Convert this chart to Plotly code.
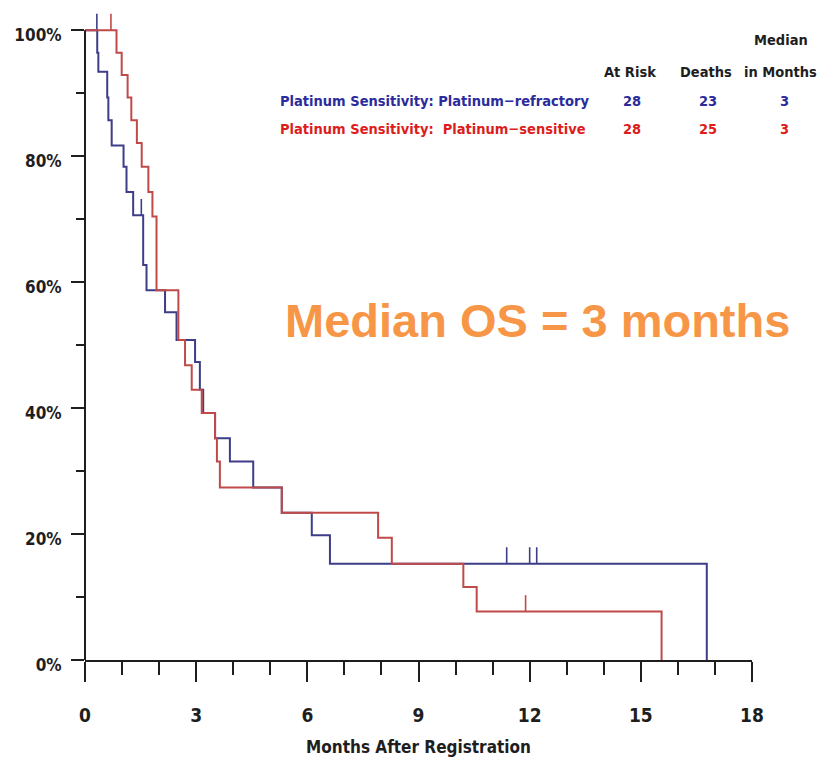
import plotly.graph_objects as go

# ---------------- data ----------------
refractory_times = [0, 0.33, 0.36, 0.60, 0.63, 0.72, 1.04, 1.12, 1.30, 1.57, 1.66, 2.16,
                    2.47, 2.97, 3.10, 3.19, 3.51, 3.91, 4.54, 5.31, 6.12, 6.61, 16.78]
refractory_surv = [100, 96.4, 93.4, 89.3, 85.7, 81.7, 78.3, 74.3, 70.6, 62.7, 58.7, 55.2,
                   50.8, 47.3, 42.9, 39.2, 35.2, 31.5, 27.4, 23.4, 19.8, 15.3, 0]
refractory_censor_t = [0.32, 1.52, 11.38, 12.0, 12.19]
refractory_censor_s = [100, 70.6, 15.3, 15.3, 15.3]

sensitive_times = [0, 0.85, 0.99, 1.15, 1.25, 1.40, 1.53, 1.71, 1.82, 1.93, 2.52, 2.70,
                   2.88, 3.15, 3.51, 3.56, 3.64, 5.31, 7.91, 8.28, 10.21, 10.57, 15.56]
sensitive_surv = [100, 96.4, 92.9, 89.3, 85.7, 82.1, 78.3, 74.3, 70.4, 58.7, 50.8, 46.8,
                  42.9, 39.2, 35.2, 31.5, 27.4, 23.4, 19.4, 15.3, 11.6, 7.7, 0]
sensitive_censor_t = [0.70, 11.89]
sensitive_censor_s = [100, 7.7]

x_tickvals = [0, 3, 6, 9, 12, 15, 18]
x_ticktext = ["0", "3", "6", "9", "12", "15", "18"]
y_tickvals = [0, 20, 40, 60, 80, 100]
y_ticktext = ["0%", "20%", "40%", "60%", "80%", "100%"]

group_labels = ["Platinum Sensitivity: Platinum\u2212refractory",
                "Platinum Sensitivity:  Platinum\u2212sensitive"]
at_risk = [28, 28]
deaths = [23, 25]
median_months = [3, 3]

# ---------------- style ----------------
W, H = 840, 762
L, R, T, B = 85, 88, 5, 102
Y_TOP = 104
BLUE_LINE = "#3d3d88"
RED_LINE = "#c04a4a"
BLUE_TXT = "#2b2b9c"
RED_TXT = "#dd1c1c"
INK = "#1e1e1e"
NARROW = "DejaVu Sans Condensed, Liberation Sans Narrow, Liberation Sans, sans-serif"
CENSOR_H = 2.6


def px(x):
    return (x - L) / (W - L - R)


def py(y):
    return (H - B - y) / (H - T - B)


def censor_xy(ts, ss):
    xs, ys = [], []
    for t, s in zip(ts, ss):
        xs += [t, t, None]
        ys += [s, s + CENSOR_H, None]
    return xs, ys


fig = go.Figure()
for times, surv, ct, cs, col in [
    (refractory_times, refractory_surv, refractory_censor_t, refractory_censor_s, BLUE_LINE),
    (sensitive_times, sensitive_surv, sensitive_censor_t, sensitive_censor_s, RED_LINE),
]:
    fig.add_trace(go.Scatter(x=times, y=surv, mode="lines", line=dict(color=col, width=2, shape="hv"),
                             showlegend=False, hoverinfo="skip"))
    cx, cy = censor_xy(ct, cs)
    fig.add_trace(go.Scatter(x=cx, y=cy, mode="lines", line=dict(color=col, width=1.6),
                             showlegend=False, hoverinfo="skip"))

fig.update_layout(
    width=W, height=H,
    margin=dict(l=L, r=R, t=T, b=B),
    paper_bgcolor="white", plot_bgcolor="white",
    showlegend=False,
    xaxis=dict(range=[0, 18], tickvals=x_tickvals, ticktext=x_ticktext,
               ticks="outside", ticklen=20, tickwidth=2, tickcolor=INK,
               minor=dict(dtick=1, tick0=0, ticks="outside", ticklen=13, tickwidth=1.5, tickcolor=INK),
               showline=True, linecolor=INK, linewidth=2, showgrid=False, zeroline=False,
               tickfont=dict(family=NARROW, size=19, color=INK, weight="bold"),
               ticklabelstandoff=17,
               title=dict(text="Months After Registration",
                          font=dict(family=NARROW, size=17, color=INK, weight="bold"),
                          standoff=16)),
    yaxis=dict(range=[0, Y_TOP], tickvals=y_tickvals, ticktext=y_ticktext,
               ticks="outside", ticklen=13, tickwidth=2, tickcolor=INK,
               minor=dict(dtick=10, tick0=0, ticks="outside", ticklen=8, tickwidth=1.5, tickcolor=INK),
               showline=False, showgrid=False, zeroline=False,
               ticklabelstandoff=6, ticklabelshift=5,
               tickfont=dict(family=NARROW, size=17, color=INK, weight="bold")),
)

# y axis line ending at 100 %
fig.add_shape(type="line", xref="paper", yref="paper", x0=0, x1=0, y0=0, y1=100 / Y_TOP,
              line=dict(color=INK, width=2))

hdr = dict(family=NARROW, size=14.5, color=INK, weight="bold")
anns = [
    ("Median", 781, 40, hdr, "center"),
    ("At Risk", 630, 72, hdr, "center"),
    ("Deaths", 706, 72, hdr, "center"),
    ("in Months", 780, 72, hdr, "center"),
]
row_y = [101, 129]
for i, col in enumerate([BLUE_TXT, RED_TXT]):
    f = dict(family=NARROW, size=14.5, color=col, weight="bold")
    anns.append((group_labels[i], 278, row_y[i], f, "left"))
    anns.append((str(at_risk[i]), 632, row_y[i], f, "center"))
    anns.append((str(deaths[i]), 708, row_y[i], f, "center"))
    anns.append((str(median_months[i]), 784, row_y[i], f, "center"))

for text, x, y, f, xa in anns:
    fig.add_annotation(text=text, x=px(x), y=py(y), xref="paper", yref="paper",
                       xanchor=xa, yanchor="middle", showarrow=False, font=f)

fig.add_annotation(text="Median OS = 3 months", x=px(283), y=py(320), xref="paper", yref="paper",
                   xanchor="left", yanchor="middle", showarrow=False,
                   font=dict(family="Liberation Sans, Arial, sans-serif", size=47, color="#F79646",
                             weight="bold"))

fig.write_html("out.html")
